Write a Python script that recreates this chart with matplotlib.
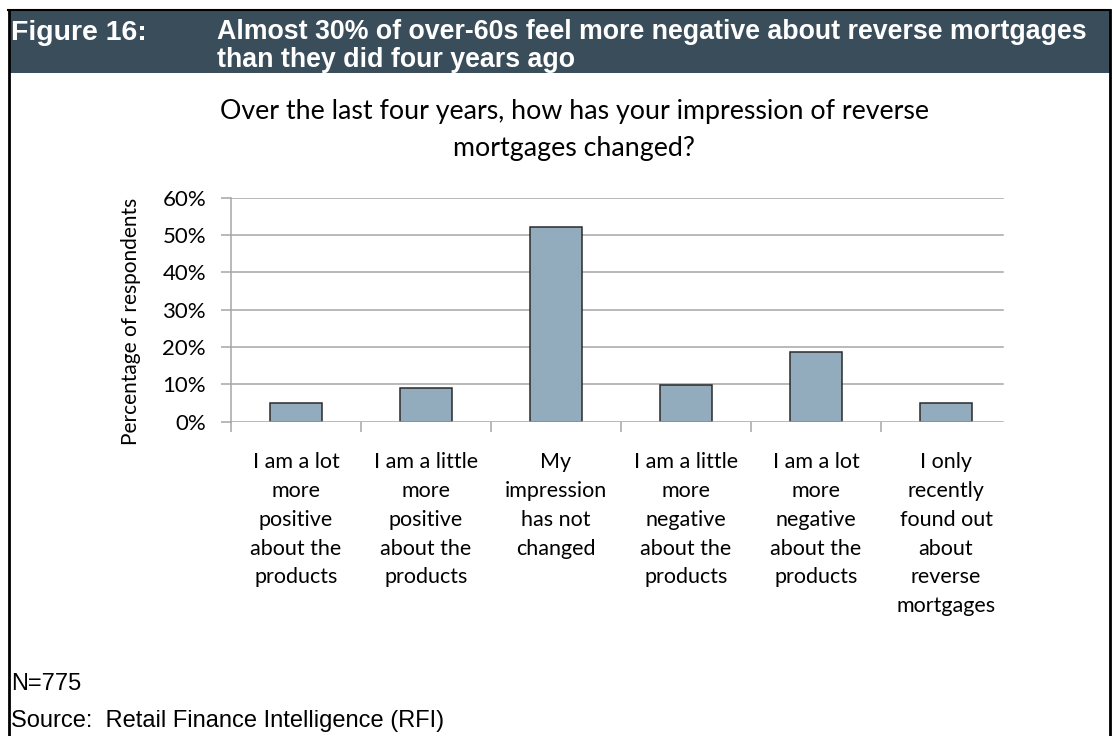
import matplotlib.pyplot as plt
from matplotlib.patches import Rectangle
from matplotlib.lines import Line2D

# Survey responses
categories = [
    "I am a lot\nmore\npositive\nabout the\nproducts",
    "I am a little\nmore\npositive\nabout the\nproducts",
    "My\nimpression\nhas not\nchanged",
    "I am a little\nmore\nnegative\nabout the\nproducts",
    "I am a lot\nmore\nnegative\nabout the\nproducts",
    "I only\nrecently\nfound out\nabout\nreverse\nmortgages",
]
share = [5.1, 8.9, 52.1, 9.9, 18.8, 5.0]
yticks = [0, 10, 20, 30, 40, 50, 60]

header_color = "#3a4d5b"
bar_color = "#92abbd"
chart_font = ["Lato", "DejaVu Sans"]
box_font = ["Liberation Sans Narrow", "Liberation Sans", "DejaVu Sans"]
note_font = ["Liberation Sans", "DejaVu Sans"]

fig = plt.figure(figsize=(11.12, 7.36), dpi=100)
W, H = 1112, 736


def fx(px):
    return px / W


def fy(py):
    return 1 - py / H


# Outer frame and header band
fig.add_artist(Rectangle((fx(9), fy(73)), fx(1101), fy(11) - fy(73),
                         transform=fig.transFigure, facecolor=header_color,
                         edgecolor="none"))
fig.add_artist(Line2D([fx(8), fx(1110)], [fy(10), fy(10)],
                      transform=fig.transFigure, color="black", lw=1.5))
fig.add_artist(Line2D([fx(8.5), fx(8.5)], [fy(10), 0],
                      transform=fig.transFigure, color="black", lw=2))
fig.add_artist(Line2D([fx(1110), fx(1110)], [fy(10), 0],
                      transform=fig.transFigure, color="black", lw=2))

fig.text(fx(11), fy(33), "Figure 16:", family=box_font, weight="bold",
         fontsize=20.5, color="white", va="center", ha="left")
fig.text(fx(217), fy(46), "Almost 30% of over-60s feel more negative about reverse mortgages\nthan they did four years ago",
         family=box_font, weight="bold", fontsize=19.3, color="white",
         va="center", ha="left", linespacing=1.1)

# Chart title
fig.text(fx(574), fy(130), "Over the last four years, how has your impression of reverse\nmortgages changed?",
         family=chart_font, fontsize=19.3, ha="center", va="center",
         linespacing=1.6)

ax = fig.add_axes([fx(231), fy(421.7), fx(1011 - 231), fy(197.7) - fy(421.7)])
x = range(len(categories))
ax.bar(x, share, width=0.405, color=bar_color, edgecolor="#2a2a2a",
       linewidth=1.1, zorder=3)

ax.set_xlim(-0.5, len(categories) - 0.5)
ax.set_ylim(0, 60)
grid_end = (1003 - 231) / (1011 - 231)
for v in yticks[1:]:
    ax.axhline(v, xmax=grid_end, color="#a6a6a6", lw=1.1, zorder=1)
ax.axhline(0, xmax=grid_end, color="#a6a6a6", lw=1.1, zorder=4)

ax.set_yticks(yticks)
ax.set_yticklabels([f"{v}%" for v in yticks], family=chart_font, fontsize=16)
ax.set_xticks([i - 0.5 for i in range(len(categories))])
ax.set_xticklabels([])
ax.set_xticks(list(x), minor=True)
ax.set_xticklabels(categories, minor=True, family=chart_font, fontsize=15.5,
                   linespacing=1.55, va="top")
ax.tick_params(axis="x", which="minor", length=0, pad=22)
ax.tick_params(axis="x", which="major", length=7, color="#a6a6a6", width=1.1)
ax.tick_params(axis="y", length=7, color="#a6a6a6", width=1.1, pad=11)

for side in ["top", "right", "bottom"]:
    ax.spines[side].set_visible(False)
ax.spines["left"].set_color("#a6a6a6")
ax.spines["left"].set_linewidth(1.1)

fig.text(fx(131), fy(321), "Percentage of respondents", rotation=90,
         family=chart_font, fontsize=15, ha="center", va="center")

# Footnotes
fig.text(fx(11), fy(684), "N=775", family=note_font,
         fontsize=17, va="center", ha="left")
fig.text(fx(11), fy(721), "Source:  Retail Finance Intelligence (RFI)",
         family=note_font, fontsize=17, va="center", ha="left")

fig.savefig("out.png", dpi=100, facecolor="white")
